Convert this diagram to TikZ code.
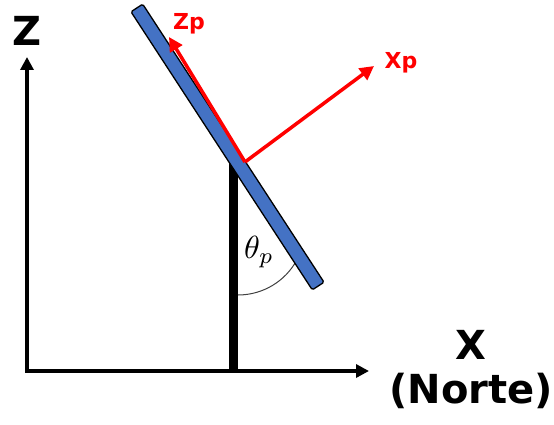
\documentclass[tikz,border=0pt]{standalone}
\usepackage{fontspec}
\setsansfont{DejaVu Sans}
\usetikzlibrary{arrows.meta}
\definecolor{panelblue}{RGB}{68,114,196}
\definecolor{vecred}{RGB}{255,0,0}
\begin{document}
\begin{tikzpicture}[x=1pt,y=1pt,
  axis/.style={line width=4pt,-{Triangle[length=13pt,width=13pt]}},
  vec/.style={draw=vecred,line width=3.5pt,-{Triangle[length=14pt,width=14pt]}},
  bigtxt/.style={font=\sffamily\bfseries\fontsize{40}{44}\selectfont,inner sep=0pt},
  redtxt/.style={text=vecred,font=\sffamily\bfseries\fontsize{22}{24}\selectfont,inner sep=0pt},
  panelbox/.style={draw=black,fill=panelblue,line width=1.3pt,rounded corners=1.5pt,minimum width=332pt,minimum height=14pt,inner sep=0pt}]
\useasboundingbox (0,0) rectangle (554,-425);
% named points
\coordinate (O) at (27,-371);
\coordinate (ztip) at (27,-57);
\coordinate (xtip) at (369,-371);
\coordinate (postbot) at (233,-371);
\coordinate (posttop) at (233,-158);
\coordinate (po) at (245,-162);
\coordinate (zpt) at (169,-37);
\coordinate (xpt) at (374,-66);
% axes
\draw[axis] (O) -- (ztip);
\draw[axis] ([xshift=-2pt]O) -- (xtip);
% post
\draw[line width=9pt] (postbot) -- (posttop);
% angle arc
\coordinate (arcstart) at (238,-295);
\draw[line width=1pt,black!75] (arcstart) arc (-90:-28:67);
% panel
\node[panelbox,rotate=-56.9] (panel) at (227.5,-147) {};
% panel vectors
\draw[vec] (po) -- (zpt);
\draw[vec] (po) -- (xpt);
% labels
\node[bigtxt] (zlab) at (27,-31) {Z};
\node[bigtxt] (xlab) at (471,-345) {X};
\node[bigtxt] (norte) at (471,-391) {(Norte)};
\node[redtxt,anchor=base] (zplab) at (189,-30) {Zp};
\node[redtxt,anchor=base] (xplab) at (401,-69) {Xp};
\node[scale=3.2,inner sep=0pt] (theta) at (259,-252) {$\theta_p$};
\end{tikzpicture}
\end{document}
